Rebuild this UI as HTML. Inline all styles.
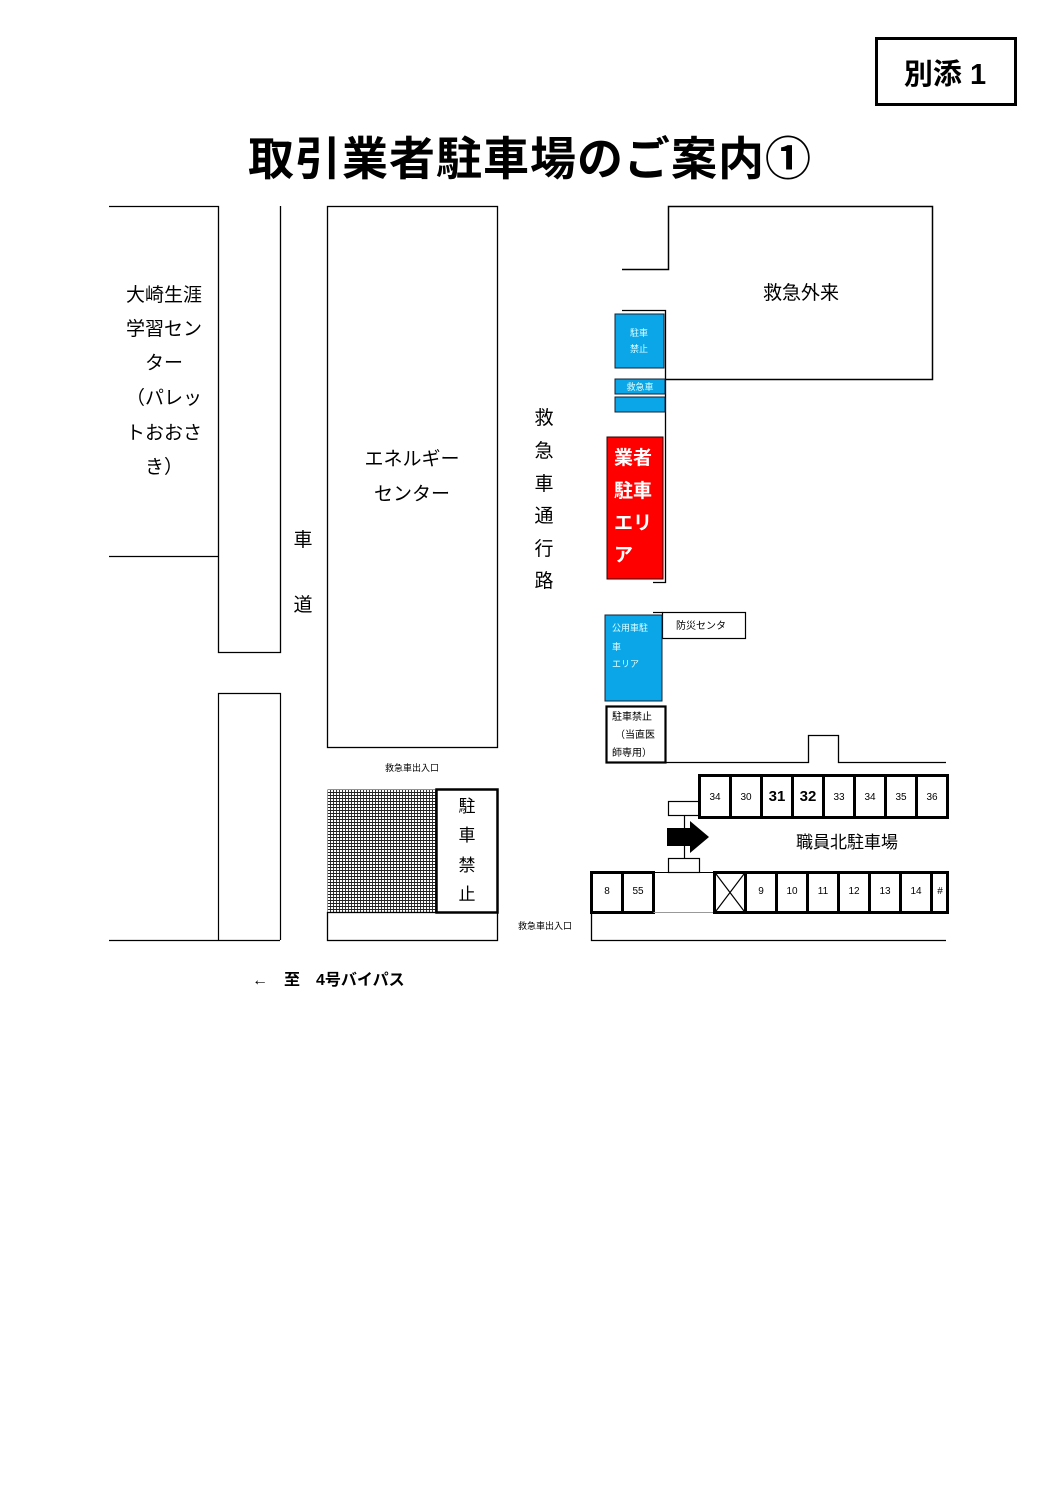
<!DOCTYPE html>
<html><head><meta charset="utf-8">
<style>
html,body{margin:0;padding:0;background:#fff;}
svg{display:block;}
text{font-family:"Liberation Sans","Noto Sans CJK JP",sans-serif;}
</style></head>
<body>
<svg width="1058" height="1497" viewBox="0 0 1058 1497" xmlns="http://www.w3.org/2000/svg">
<defs>
<pattern id="hatch" width="6" height="6" patternUnits="userSpaceOnUse">
<rect width="6" height="6" fill="#fff"/>
<path d="M0 0.5H6M0 3.5H6M0.5 0V6M3.5 0V6" stroke="#222" stroke-width="0.9"/>
</pattern>
</defs>
<g fill="none" stroke="#000">
<!-- badge -->
<rect x="876.5" y="38.5" width="139" height="66" stroke-width="3"/>
<!-- left building -->
<path d="M109 206.5H218.5V652.5H280.5V206" stroke-width="1.3"/>
<path d="M109 556.5H218.5" stroke-width="1.2"/>
<path d="M218.5 940V693.5H280.5V940" stroke-width="1.2"/>
<path d="M109 940.5H280" stroke-width="1.3"/>
<!-- energy center -->
<rect x="327.5" y="206.5" width="170" height="541" stroke-width="1.3"/>
<!-- hatched block -->
<rect x="327.5" y="789.5" width="109" height="123" fill="url(#hatch)" stroke="none"/>
<rect x="436.5" y="789.5" width="61" height="123" stroke-width="2.5"/>
<rect x="327.5" y="912.5" width="170" height="28" stroke-width="1.3"/>
<!-- emergency outpatient -->
<path d="M622 269.5H668.5V206.5H932.5V379.5H665" stroke-width="1.5"/>
<path d="M622 310.5H665.5V582.5H653" stroke-width="1.3"/>
<path d="M653 612.5H662.5" stroke-width="1.2"/>
<rect x="662.5" y="612.5" width="83" height="26" stroke-width="1.2"/>
<rect x="606.5" y="706.5" width="59" height="56" stroke-width="2.2"/>
<path d="M665 762.5H808.5V735.5H838.5V762.5H946" stroke-width="1.3"/>
<!-- top stalls -->
<rect x="699.5" y="775.5" width="248" height="42" stroke-width="3"/>
<path d="M730.5 776V817M761.5 776V817M792.5 776V817M823.5 776V817M854.5 776V817M885.5 776V817M916.5 776V817" stroke-width="3"/>
<rect x="668.5" y="801.5" width="31" height="14" stroke-width="1.2"/>
<path d="M684.5 815V858" stroke-width="1.2"/>
<rect x="668.5" y="858.5" width="31" height="14" stroke-width="1.2"/>
<!-- bottom stalls -->
<rect x="591.5" y="872.5" width="62" height="40" stroke-width="3"/>
<path d="M622.5 873V912" stroke-width="3"/>
<path d="M653.5 912.5H714" stroke="#999" stroke-width="1"/>
<path d="M653 872.5H714" stroke-width="1"/>
<rect x="714.5" y="872.5" width="233" height="40" stroke-width="3"/>
<path d="M745.5 873V912M776.5 873V912M807.5 873V912M838.5 873V912M869.5 873V912M900.5 873V912M931.5 873V912" stroke-width="3"/>
<path d="M716 874L744 911M744 874L716 911" stroke-width="1.2"/>
<path d="M591.5 912V940.5H946" stroke-width="1.3"/>
</g>
<!-- blue boxes -->
<rect x="615" y="314" width="49" height="54" fill="#0aa6e8" stroke="#123" stroke-width="1"/>
<rect x="615" y="379" width="50" height="15" fill="#0aa6e8" stroke="#123" stroke-width="1"/>
<rect x="615" y="397" width="50" height="15" fill="#0aa6e8" stroke="#123" stroke-width="1"/>
<rect x="607" y="437" width="56" height="142" fill="#ff0000" stroke="#300" stroke-width="1"/>
<rect x="605" y="615" width="57" height="86" fill="#0aa6e8" stroke="#123" stroke-width="1"/>
<!-- arrow -->
<path d="M667 828H690V821L709 837L690 853V846H667Z" fill="#000"/>

<!-- texts -->
<text x="945" y="84" font-size="29" font-weight="bold" text-anchor="middle">別添 1</text>
<text x="530" y="175" font-size="46" font-weight="bold" text-anchor="middle" letter-spacing="1">取引業者駐車場のご案内①</text>
<g font-size="19" text-anchor="middle" fill="#000">
<text x="164" y="301">大崎生涯</text>
<text x="164" y="335">学習セン</text>
<text x="164" y="369">ター</text>
<text x="164" y="404">（パレッ</text>
<text x="164" y="439">トおおさ</text>
<text x="164" y="473">き）</text>
<text x="412" y="465">エネルギー</text>
<text x="412" y="500">センター</text>
<text x="801" y="299">救急外来</text>
<text x="303" y="546">車</text>
<text x="303" y="611">道</text>
<text x="544" y="424">救</text>
<text x="544" y="457">急</text>
<text x="544" y="490">車</text>
<text x="544" y="522">通</text>
<text x="544" y="555">行</text>
<text x="544" y="587">路</text>
</g>
<g font-size="17" text-anchor="middle">
<text x="467" y="812">駐</text>
<text x="467" y="841">車</text>
<text x="467" y="871">禁</text>
<text x="467" y="900">止</text>
<text x="847" y="848">職員北駐車場</text>
</g>
<g font-size="19" font-weight="bold" fill="#fff">
<text x="614" y="464">業者</text>
<text x="614" y="497">駐車</text>
<text x="614" y="529">エリ</text>
<text x="614" y="561">ア</text>
</g>
<g font-size="9" fill="#dff">
<text x="639" y="336" text-anchor="middle">駐車</text>
<text x="639" y="352" text-anchor="middle">禁止</text>
<text x="640" y="390" text-anchor="middle">救急車</text>
<text x="612" y="631">公用車駐</text>
<text x="612" y="650">車</text>
<text x="612" y="667">エリア</text>
</g>
<g font-size="10">
<text x="676" y="629">防災センタ</text>
<text x="612" y="720">駐車禁止</text>
<text x="615" y="738">（当直医</text>
<text x="612" y="756">師専用）</text>
<text x="412" y="771" text-anchor="middle" font-size="9">救急車出入口</text>
<text x="545" y="929" text-anchor="middle" font-size="9">救急車出入口</text>
</g>
<g font-size="10" text-anchor="middle">
<text x="715" y="800">34</text>
<text x="746" y="800">30</text>
<text x="777" y="801" font-size="15" font-weight="bold">31</text>
<text x="808" y="801" font-size="15" font-weight="bold">32</text>
<text x="839" y="800">33</text>
<text x="870" y="800">34</text>
<text x="901" y="800">35</text>
<text x="932" y="800">36</text>
<text x="607" y="894">8</text>
<text x="638" y="894">55</text>
<text x="761" y="894">9</text>
<text x="792" y="894">10</text>
<text x="823" y="894">11</text>
<text x="854" y="894">12</text>
<text x="885" y="894">13</text>
<text x="916" y="894">14</text>
<text x="940" y="894">#</text>
</g>
<text x="252" y="985" font-size="16" font-weight="bold">←　至　4号バイパス</text>
</svg>
</body></html>
